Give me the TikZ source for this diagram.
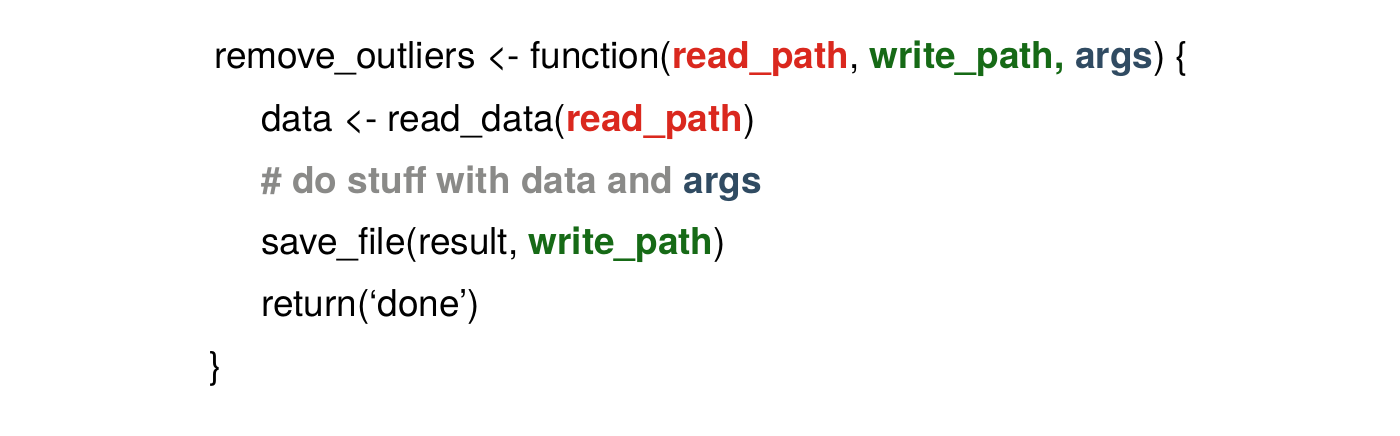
\documentclass[tikz,border=0pt]{standalone}
\usepackage{fontspec}
\setmainfont{TeX Gyre Heros}
\definecolor{argred}{RGB}{218,40,30}
\definecolor{arggreen}{RGB}{22,106,22}
\definecolor{argblue}{RGB}{48,75,98}
\definecolor{cmtgray}{RGB}{138,138,136}
\newcommand{\rdpath}{\textcolor{argred}{\bfseries read\_path}}
\newcommand{\wrpath}{\textcolor{arggreen}{\bfseries write\_path}}
\newcommand{\argsw}{\textcolor{argblue}{\bfseries args}}
\begin{document}
\begin{tikzpicture}[x=1pt,y=-1pt,
  codeline/.style={anchor=base west,inner sep=0pt,font=\fontsize{37}{44}\selectfont}]
\useasboundingbox[fill=white] (0,0) rectangle (1400,436);
\node[codeline] (l1) at (214,69) {remove\_outliers <- function(\rdpath, \textcolor{arggreen}{\bfseries write\_path,} \argsw) \{};
\node[codeline] (l2) at (261,131) {data <- read\_data(\rdpath)};
\node[codeline] (l3) at (261,193) {\textcolor{cmtgray}{\bfseries \# do stuff with data and} \argsw};
\node[codeline] (l4) at (261,254) {save\_file(result, \wrpath)};
\node[codeline] (l5) at (261,316) {return(‘done’)};
\node[codeline] (l6) at (209,378) {\}};
\end{tikzpicture}
\end{document}
